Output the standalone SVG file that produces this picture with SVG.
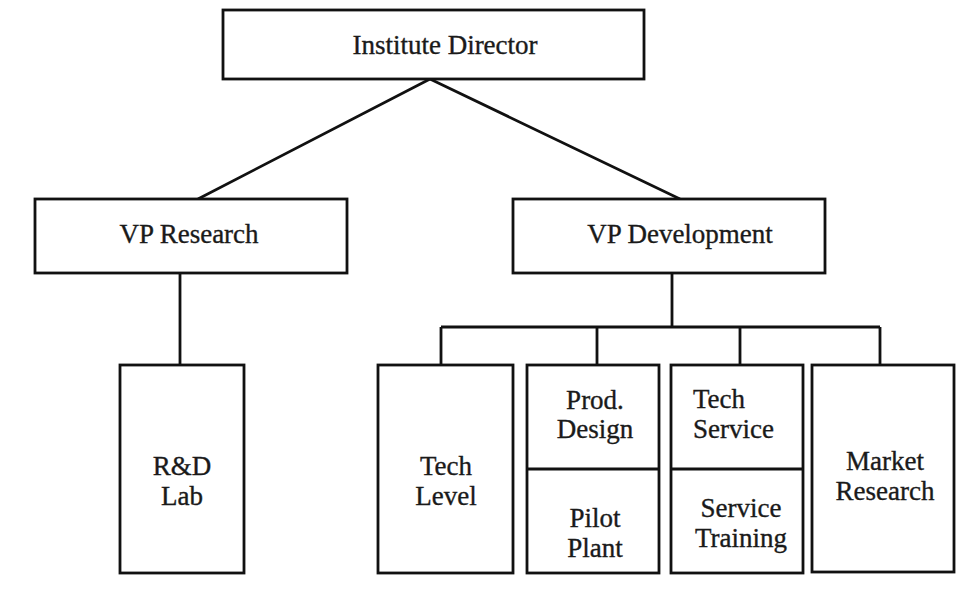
<svg xmlns="http://www.w3.org/2000/svg" width="963" height="596" viewBox="0 0 963 596">
<style>
.box{fill:#fff;stroke:#111;stroke-width:2.8}
.ln{fill:none;stroke:#111;stroke-width:2.8}
text{font-family:"Liberation Serif","Times New Roman",serif;font-size:27px;fill:#1a1a1a;stroke:#1a1a1a;stroke-width:0.35;text-anchor:middle}
</style>
<rect width="963" height="596" fill="#fff"/>
<g id="connectors">
<path class="ln" d="M430,79 L198,199 M430,79 L680,199"/>
<path class="ln" d="M180,273 V365"/>
<path class="ln" d="M672,273 V327 M441,327 H880 M441,327 V365 M597,327 V365 M740,327 V365 M880,327 V365"/>
</g>
<g id="director"><rect class="box" x="223" y="10" width="421" height="69"/><text x="445" y="54">Institute Director</text></g>
<g id="vp-research"><rect class="box" x="35" y="199" width="312" height="74"/><text x="189" y="243">VP Research</text></g>
<g id="vp-development"><rect class="box" x="513" y="199" width="312" height="74"/><text x="680" y="243">VP Development</text></g>
<g id="rd-lab"><rect class="box" x="120" y="365" width="124" height="208"/><text x="182" y="475">R&amp;D</text><text x="182" y="505">Lab</text></g>
<g id="tech-level"><rect class="box" x="378" y="365" width="135" height="208"/><text x="446" y="475">Tech</text><text x="446" y="505">Level</text></g>
<g id="prod-pilot"><rect class="box" x="527" y="365" width="132" height="208"/><path class="ln" d="M527,469 H659"/>
<text x="595" y="409">Prod.</text><text x="595" y="438">Design</text><text x="595" y="527">Pilot</text><text x="595" y="557">Plant</text></g>
<g id="tech-service"><rect class="box" x="671" y="365" width="132" height="208"/><path class="ln" d="M671,469 H803"/>
<text x="693" y="408" style="text-anchor:start">Tech</text><text x="693" y="438" style="text-anchor:start">Service</text><text x="741" y="517">Service</text><text x="741" y="547">Training</text></g>
<g id="market-research"><rect class="box" x="812" y="365" width="142" height="207"/><text x="885" y="470">Market</text><text x="885" y="500">Research</text></g>
</svg>
